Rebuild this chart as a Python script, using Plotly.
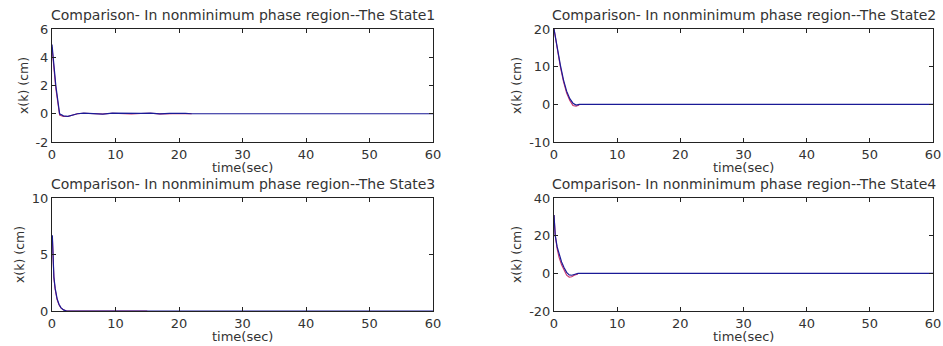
import plotly.graph_objects as go
from plotly.subplots import make_subplots

# ---- data: state trajectories (time in seconds, x(k) in cm) ----
time_s1 = [0, 0.2, 0.6, 1.2, 1.8, 2.5, 3.2, 4, 5, 6.5, 8, 9.5, 11, 12.5, 14, 15.5, 17, 18.5, 20, 21, 22]
state1_red = [4.7, 3.8, 1.8, -0.1, -0.2, -0.2, -0.1, 0.0, 0.04, 0.02, -0.02, 0.04, 0.02, -0.02, 0.02, 0.04, -0.01, 0.02, 0.05, 0.02, 0.0]
time_b1 = [0, 0.2, 0.6, 1.2, 1.8, 2.5, 3.2, 4, 5, 6.5, 8, 9.5, 11, 12.5, 14, 15.5, 17, 18.5, 20, 21, 22, 60]
state1_blue = [4.9, 4.0, 2.0, 0.0, -0.15, -0.18, -0.1, 0.0, 0.05, 0.03, -0.02, 0.04, 0.03, -0.02, 0.02, 0.04, -0.01, 0.02, 0.05, 0.02, 0.0, 0.0]

time_s2 = [0, 0.5, 1.0, 1.5, 2.0, 2.5, 3.0, 3.5, 4.0]
state2_red = [20, 14.5, 10, 6, 3, 1, -0.3, -0.5, -0.2]
time_b2 = [0, 0.5, 1.0, 1.5, 2.0, 2.5, 3.0, 3.5, 4.0, 60]
state2_blue = [20, 15, 10.5, 6.5, 3.5, 1.5, 0.3, -0.2, 0.0, 0.0]

time_s3 = [0.05, 0.15, 0.3, 0.5, 0.8, 1.1, 1.4, 1.8, 2.3, 15]
state3_red = [6.6, 4.0, 2.9, 1.9, 1.0, 0.55, 0.28, 0.1, 0.0, 0.0]
time_b3 = [0.05, 0.15, 0.3, 0.5, 0.8, 1.1, 1.4, 1.8, 2.3, 15, 60]
state3_blue = [6.7, 4.0, 3.0, 2.0, 1.1, 0.6, 0.3, 0.1, 0.0, 0.0, 0.0]

time_s4 = [0, 0.2, 0.5, 0.8, 1.2, 1.6, 2.0, 2.4, 2.8, 3.2, 3.8]
state4_red = [31, 20, 13, 8.5, 4.5, 1.5, -1, -2, -1.8, -1, -0.3]
time_b4 = [0, 0.2, 0.5, 0.8, 1.2, 1.6, 2.0, 2.4, 2.8, 3.2, 3.8, 60]
state4_blue = [31, 20, 14, 10, 6, 3, 0.5, -0.8, -1.0, -0.6, 0.0, 0.0]

y_ranges = [[-2, 6], [-10, 20], [0, 10], [-20, 40]]
y_ticks = [[-2, 0, 2, 4, 6], [-10, 0, 10, 20], [0, 5, 10], [-20, 0, 20, 40]]
y_tick_labels = [["-2", "0", "2", "4", "6"], ["-10", "0", "10", "20"], ["0", "5", "10"], ["-20", "0", "20", "40"]]
x_ticks = [0, 10, 20, 30, 40, 50, 60]
titles = [f"Comparison- In nonminimum phase region--The State{i}" for i in range(1, 5)]
x_label = "time(sec)"
y_label = "x(k) (cm)"

RED = "#c8306a"
BLUE = "#1a1a96"
TEXT = "#333333"
FONT = "DejaVu Sans"

W, H = 943, 346
# panel boxes in pixels: (left, right, top, bottom)
boxes = [(52, 433, 29, 142), (554, 933, 29, 142), (52, 433, 198, 311), (554, 933, 198, 311)]

fig = make_subplots(rows=2, cols=2)

series = [
    (time_s1, state1_red, time_b1, state1_blue),
    (time_s2, state2_red, time_b2, state2_blue),
    (time_s3, state3_red, time_b3, state3_blue),
    (time_s4, state4_red, time_b4, state4_blue),
]

for i, (tr, yr, tb, yb) in enumerate(series):
    r, c = i // 2 + 1, i % 2 + 1
    fig.add_trace(go.Scatter(x=tr, y=yr, mode="lines", line=dict(color=RED, width=1.1),
                             showlegend=False), row=r, col=c)
    fig.add_trace(go.Scatter(x=tb, y=yb, mode="lines", line=dict(color=BLUE, width=1.2),
                             showlegend=False), row=r, col=c)

for i, (l, rgt, t, b) in enumerate(boxes):
    r, c = i // 2 + 1, i % 2 + 1
    xd = [l / W, rgt / W]
    yd = [1 - b / H, 1 - t / H]
    axis_common = dict(showgrid=False, zeroline=False, showline=True, linecolor="#222",
                       linewidth=1, mirror="ticks", ticks="inside", ticklen=4,
                       tickcolor="#222", automargin=False,
                       tickfont=dict(family=FONT, size=13, color=TEXT))
    fig.update_xaxes(domain=xd, range=[0, 60], tickvals=x_ticks,
                     row=r, col=c, **axis_common)
    fig.update_yaxes(domain=yd, range=y_ranges[i], tickvals=y_ticks[i],
                     ticktext=y_tick_labels[i],
                     title=dict(text=y_label, font=dict(family=FONT, size=12.5, color=TEXT), standoff=4),
                     row=r, col=c, **axis_common)
    # panel title
    fig.add_annotation(text=titles[i], x=(l + rgt) / 2 / W, y=1 - (t - 14) / H,
                       xref="paper", yref="paper", showarrow=False,
                       xanchor="center", yanchor="middle",
                       font=dict(family=FONT, size=14, color=TEXT))
    # x-axis label
    fig.add_annotation(text=x_label, x=(l + rgt) / 2 / W, y=1 - (b + 25) / H,
                       xref="paper", yref="paper", showarrow=False,
                       xanchor="center", yanchor="middle",
                       font=dict(family=FONT, size=13, color=TEXT))

fig.update_layout(width=W, height=H, margin=dict(l=0, r=0, t=0, b=0),
                  paper_bgcolor="white", plot_bgcolor="white")

fig.write_html("out.html")
